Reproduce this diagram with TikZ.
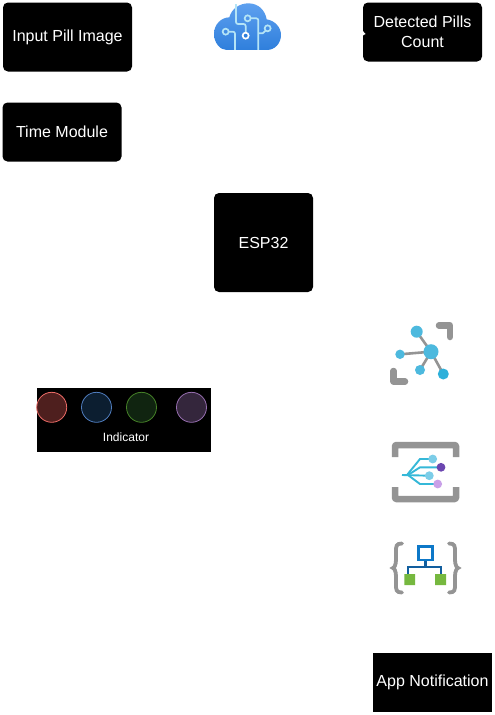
\documentclass[tikz,border=0pt]{standalone}
\usepackage{fontspec}
\setmainfont{Liberation Sans}
\usetikzlibrary{shadings}
\definecolor{cloudtop}{HTML}{5EA0EF}
\definecolor{cloudbot}{HTML}{2F7FDC}
\definecolor{cloudline}{HTML}{B4E4F6}
\definecolor{icongray}{HTML}{949494}
\definecolor{nodeblue}{HTML}{4DB9DE}
\definecolor{nodeblueb}{HTML}{2EB0DA}
\definecolor{treeline}{HTML}{35B8D8}
\definecolor{lightc}{HTML}{7CCDE8}
\definecolor{purpled}{HTML}{6B46B0}
\definecolor{purplel}{HTML}{C9A0E8}
\definecolor{sqblue}{HTML}{0D78C8}
\definecolor{sqdark}{HTML}{125E9E}
\definecolor{sqgreen}{HTML}{76B83F}
\tikzset{
  x=1pt,y=-1pt,
  blackbox/.style={fill=black,draw=none,text=white,rounded corners=5pt,align=center,inner sep=0pt,font=\fontsize{16}{20}\selectfont},
  lamp/.style={circle,minimum size=30pt,inner sep=0pt,line width=0.8pt},
  brk/.style={draw=icongray,line width=6.5pt,line cap=round,line join=round},
  cloudwire/.style={draw=cloudline,line width=1.7pt,fill=none}
}
\begin{document}
\begin{tikzpicture}
\useasboundingbox (0,0) rectangle (495,715);
\fill[white] (0,0) rectangle (495,715);
% boxes
\node[blackbox,minimum width=129pt,minimum height=69pt] (input) at (67.5,37) {Input Pill Image};
\node[blackbox,minimum width=119pt,minimum height=59pt] (time) at (62,132) {Time Module};
\node[blackbox,minimum width=99pt,minimum height=99pt] (esp) at (263.5,242.5) {ESP32};
\node[blackbox,minimum width=119pt,minimum height=59pt] (count) at (422.5,32) {Detected Pills\\Count};
\node[blackbox,rounded corners=0pt,minimum width=119pt,minimum height=59pt] (app) at (432.5,682.5) {App Notification};
\fill[white] (362,30) -- (365.5,34) -- (362,36) -- cycle;
% indicator
\node[fill=black,minimum width=174pt,minimum height=64pt,inner sep=0pt] (indbox) at (124,420) {};
\node[text=white,font=\fontsize{12}{13}\selectfont] (indtext) at (126,437) {Indicator};
\node[lamp,draw={rgb,255:red,234;green,107;blue,102},fill={rgb,255:red,78;green,31;blue,30}] (lr) at (51.7,407.3) {};
\node[lamp,draw={rgb,255:red,80;green,125;blue,190},fill={rgb,255:red,12;green,30;blue,48}] (lb) at (96.5,407.3) {};
\node[lamp,draw={rgb,255:red,70;green,130;blue,40},fill={rgb,255:red,16;green,36;blue,16}] (lg) at (141.5,407.3) {};
\node[lamp,draw={rgb,255:red,150;green,110;blue,175},fill={rgb,255:red,52;green,38;blue,60}] (lp) at (191.5,407.3) {};
% cloud
\begin{scope}[shift={(200,0)},x=0.3333pt,y=-0.3333pt]
\shade[top color=cloudtop,bottom color=cloudbot]
 (42,102) .. controls (42,72) and (65,52) .. (88,52)
 .. controls (95,25) and (120,10) .. (145,10)
 .. controls (175,10) and (195,30) .. (200,58)
 .. controls (225,62) and (243,82) .. (243,105)
 .. controls (243,130) and (225,150) .. (200,150)
 -- (80,150) .. controls (60,150) and (42,128) .. (42,102) -- cycle;
\draw[cloudwire,rounded corners=2pt] (108,12) -- (108,72) -- (137,72) -- (137,97);
\draw[cloudwire,draw=white,fill=cloudbot] (137,107) circle (9);
\draw[cloudwire] (143,55) circle (9);
\draw[cloudwire,rounded corners=2pt] (152,55) -- (175,55) -- (175,150);
\draw[cloudwire] (77,95) circle (9);
\draw[cloudwire,rounded corners=2pt] (86,95) -- (105,95) -- (105,150);
\draw[cloudwire] (203,85) circle (9);
\draw[cloudwire] (197,92) -- (188,100) -- (175,100);
\end{scope}
% graph icon
\draw[brk] (439,325.5) -- (450,325.5) -- (450,337);
\draw[brk] (393.5,371) -- (393.5,381.5) -- (405,381.5);
\draw[draw=icongray,line width=2.6pt] (431,351.7) -- (416.7,331.7) (431,351.7) -- (400,354.3) (431,351.7) -- (420,370) (431,351.7) -- (443.3,374);
\fill[nodeblue] (431,351.7) circle (7.5) (416.7,331.7) circle (6) (400,354.3) circle (4.7) (420,370) circle (5);
\fill[nodeblueb] (443.3,374) circle (5.5);
% tree icon
\draw[brk,line cap=butt,rounded corners=1pt] (395,457) -- (395,445) -- (456,445) -- (456,457);
\draw[brk,line cap=butt,rounded corners=1pt] (395,487) -- (395,499) -- (456,499) -- (456,487);
\draw[treeline,line width=1.9pt] (402,475) -- (429,475.7);
\draw[treeline,line width=1.9pt] (407,475) -- (420,459) -- (432,459);
\draw[treeline,line width=1.9pt] (408,475) -- (420,467.3) -- (441,467.3);
\draw[treeline,line width=1.9pt] (408,475) -- (420,484) -- (437,484);
\fill[lightc] (432.7,459) circle (4.4) (429.3,475.7) circle (4.4);
\fill[purpled] (441,467.3) circle (4.4);
\fill[purplel] (437.7,484) circle (4.4);
% hierarchy icon
\draw[draw=icongray,line width=3.8pt,line cap=round] (402,543.5) .. controls (396,543.5) and (396,546) .. (396,552) -- (396,560) .. controls (396,565) and (394,568) .. (393,568) .. controls (394,568) and (396,571) .. (396,576) -- (396,584) .. controls (396,590) and (396,592.5) .. (402,592.5);
\draw[draw=icongray,line width=3.8pt,line cap=round] (449,543.5) .. controls (455,543.5) and (455,546) .. (455,552) -- (455,560) .. controls (455,565) and (457,568) .. (458,568) .. controls (457,568) and (455,571) .. (455,576) -- (455,584) .. controls (455,590) and (455,592.5) .. (449,592.5);
\draw[sqblue,line width=2.6pt,fill=white] (418.3,546.7) rectangle (432.3,560);
\draw[sqdark,line width=2.6pt] (425.3,561) -- (425.3,567) (408,574) -- (408,567) -- (441,567) -- (441,574);
\fill[sqgreen] (404.3,574) rectangle (415,585) (435,574) rectangle (446,585);
\end{tikzpicture}
\end{document}
